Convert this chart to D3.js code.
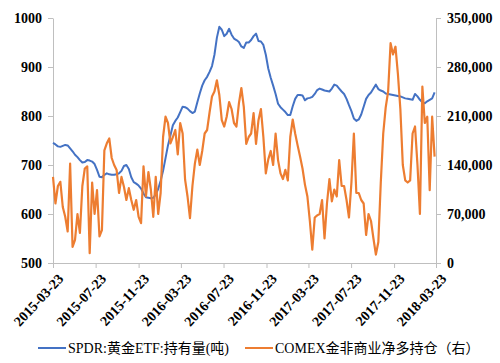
<!DOCTYPE html>
<html>
<head>
<meta charset="utf-8">
<script src="https://cdn.jsdelivr.net/npm/d3@7"></script>
<style>
  body { margin: 0; background: #fff; }
</style>
</head>
<body>
<svg id="chart" width="500" height="363"></svg>
<script>
// weekly observations from 2015-03-23
const startDate = "2015-03-23";
const endDate = "2018-03-23";

// SPDR gold ETF holdings (tonnes)
const spdr = [
  745, 742, 738, 737, 739, 741, 740, 734, 728, 721, 716, 710, 705, 706, 710, 709, 707, 702, 690, 676,
  675, 680, 683, 681, 680, 680, 681, 683, 688, 698, 700, 692, 675, 665, 662, 658, 652, 642, 634, 633,
  632, 633, 640, 651, 668, 688, 714, 740, 760, 781, 790, 797, 808, 819, 818, 815, 810, 806, 809, 828,
  846, 862, 873, 880, 890, 902, 925, 960, 982, 976, 963, 968, 978, 966, 958, 955, 951, 942, 939, 950,
  950, 955, 963, 968, 953, 952, 945, 925, 897, 878, 862, 845, 825, 818, 813, 808, 802, 802, 820, 835,
  843, 843, 842, 832, 836, 837, 839, 845, 853, 856, 854, 852, 851, 850, 856, 864, 862, 856, 850, 845,
  835, 822, 810, 795, 790, 793, 803, 819, 835, 843, 848, 856, 864, 855, 852, 850, 846, 845, 844, 843,
  842, 841, 840, 838, 836, 835, 834, 833, 845, 840, 833, 828, 826, 830, 833, 836, 848
];

// COMEX gold non-commercial net long (thousand contracts)
const comex = [
  123, 85, 110, 116, 80, 66, 45, 142, 23, 33, 70, 43, 110, 135, 138, 14, 115, 70, 104, 38,
  47, 161, 171, 178, 150, 140, 133, 100, 123, 109, 90, 107, 90, 76, 90, 66, 57, 138, 95, 130,
  105, 66, 123, 70, 100, 180, 209, 200, 171, 180, 190, 155, 200, 185, 119, 95, 64, 110, 142, 162,
  140, 160, 185, 190, 215, 238, 245, 261, 240, 204, 195, 209, 230, 220, 200, 195, 228, 250, 223, 170,
  180, 185, 214, 170, 204, 220, 180, 128, 148, 160, 140, 185, 147, 128, 120, 133, 118, 180, 205, 185,
  168, 152, 135, 112, 95, 60, 19, 65, 68, 70, 90, 35, 85, 120, 88, 105, 95, 147, 110, 110,
  90, 65, 115, 185, 100, 100, 90, 85, 40, 70, 60, 35, 12, 30, 115, 185, 222, 245, 314, 298,
  309, 270, 220, 140, 118, 115, 118, 185, 195, 140, 70, 252, 200, 209, 104, 209, 152
];

const xTicks = ["2015-03-23", "2015-07-23", "2015-11-23", "2016-03-23", "2016-07-23",
  "2016-11-23", "2017-03-23", "2017-07-23", "2017-11-23", "2018-03-23"];
const leftTicks = [500, 600, 700, 800, 900, 1000];
const rightTicks = [0, 70000, 140000, 210000, 280000, 350000];

const parse = d3.timeParse("%Y-%m-%d");
const fmt = d3.timeFormat("%Y-%m-%d");
const dates = d3.range(spdr.length).map(i => d3.timeDay.offset(parse(startDate), 7 * i));

const svg = d3.select("#chart");
const m = { left: 53, right: 436, top: 18, bottom: 263 };
const serif = "'Liberation Serif', 'Times New Roman', serif";

const x = d3.scaleTime()
  .domain([parse(startDate), parse(endDate)])
  .range([m.left, m.right]);
const yL = d3.scaleLinear().domain([500, 1000]).range([m.bottom, m.top]);
const yR = d3.scaleLinear().domain([0, 350000]).range([m.bottom, m.top]);

const axisColor = "#bfbfbf";

// left axis
const gL = svg.append("g").attr("transform", `translate(${m.left},0)`)
  .call(d3.axisLeft(yL).tickValues(leftTicks).tickSize(5).tickPadding(6).tickSizeOuter(0)
    .tickFormat(d3.format("d")));
// right axis
const gR = svg.append("g").attr("transform", `translate(${m.right},0)`)
  .call(d3.axisRight(yR).tickValues(rightTicks).tickSize(5).tickPadding(6).tickSizeOuter(0)
    .tickFormat(d3.format(",")));
// bottom axis
const gB = svg.append("g").attr("transform", `translate(0,${m.bottom})`)
  .call(d3.axisBottom(x).tickValues(xTicks.map(parse)).tickSize(5).tickSizeOuter(0)
    .tickFormat(fmt));
gB.selectAll(".tick text")
  .attr("text-anchor", "end")
  .attr("dx", 0).attr("dy", 0)
  .attr("transform", "translate(5,11) rotate(-47)");

[gL, gR, gB].forEach(g => {
  g.attr("font-family", serif).attr("font-size", 14).attr("font-weight", "bold");
  g.selectAll(".domain, .tick line").attr("stroke", axisColor);
  g.selectAll(".tick text").attr("fill", "#000");
});

// lines
const lineL = d3.line().x((d, i) => x(dates[i])).y(d => yL(d));
const lineR = d3.line().x((d, i) => x(dates[i])).y(d => yR(d * 1000));

svg.append("path").datum(spdr)
  .attr("fill", "none").attr("stroke", "#4472c4").attr("stroke-width", 2)
  .attr("stroke-linejoin", "round").attr("d", lineL);
svg.append("path").datum(comex)
  .attr("fill", "none").attr("stroke", "#ed7d31").attr("stroke-width", 2.2)
  .attr("stroke-linejoin", "round").attr("d", lineR);

// legend
const legendItems = [
  { label: "SPDR:黄金ETF:持有量(吨)", color: "#4472c4", x: 38 },
  { label: "COMEX金非商业净多持仓（右）", color: "#ed7d31", x: 245 }
];
const lg = svg.append("g")
  .attr("font-family", "'Liberation Serif', 'Noto Sans CJK SC', serif")
  .attr("font-size", 14);
legendItems.forEach(it => {
  lg.append("line").attr("x1", it.x).attr("x2", it.x + 28)
    .attr("y1", 348).attr("y2", 348)
    .attr("stroke", it.color).attr("stroke-width", 2);
  lg.append("text").attr("x", it.x + 30).attr("y", 353).attr("fill", "#000").text(it.label);
});
</script>
</body>
</html>
